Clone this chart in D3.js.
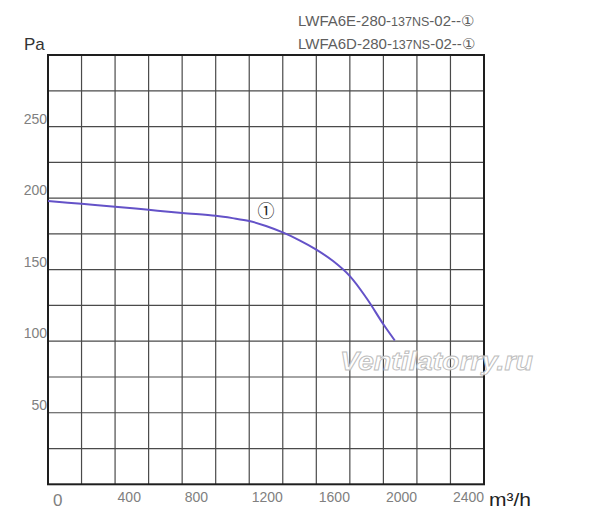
<!DOCTYPE html>
<html>
<head>
<meta charset="utf-8">
<script src="https://cdn.jsdelivr.net/npm/d3@7"></script>
<style>
  html, body { margin: 0; padding: 0; background: #fff; }
  svg { display: block; }
</style>
</head>
<body>
<svg id="chart" width="600" height="522"></svg>
<script>
// ---- data ----
const flow     = [0, 200, 400, 600, 800, 1000, 1100, 1200, 1300, 1400, 1500, 1600, 1700, 1800, 1900, 2000, 2068];
const pressure = [198, 196, 194, 191.8, 189.6, 187.6, 186, 184, 180.5, 176, 170.5, 164, 156, 145.5, 130, 111.8, 100.5];
const xTickLabels = [0, 400, 800, 1200, 1600, 2000, 2400];
const yTickLabels = [50, 100, 150, 200, 250];
const xGrid = [200, 400, 600, 800, 1000, 1200, 1400, 1600, 1800, 2000, 2200, 2400];
const yGrid = [25, 50, 75, 100, 125, 150, 175, 200, 225, 250, 275];
const xDomain = [0, 2600];
const yDomain = [0, 300];
const modelLines = [
  ["LWFA6E-280-", "137NS", "-02--①"],
  ["LWFA6D-280-", "137NS", "-02--①"]
];
const curveLabel = "①";
const watermark = "Ventilatorry.ru";

// ---- layout ----
const svg = d3.select("#chart");
const L = 48, R = 484, T = 55, B = 484.3;
const x = d3.scaleLinear().domain(xDomain).range([L, R]);
const y = d3.scaleLinear().domain(yDomain).range([B, T]);

// grid
const g = svg.append("g");
g.selectAll("line.v").data(xGrid).join("line")
  .attr("x1", d => x(d)).attr("x2", d => x(d))
  .attr("y1", T).attr("y2", B)
  .attr("stroke", "#4a4a4a").attr("stroke-width", 1.2);
g.selectAll("line.h").data(yGrid).join("line")
  .attr("y1", d => y(d)).attr("y2", d => y(d))
  .attr("x1", L).attr("x2", R)
  .attr("stroke", "#4a4a4a").attr("stroke-width", 1.2);
g.append("rect")
  .attr("x", L).attr("y", T).attr("width", R - L).attr("height", B - T)
  .attr("fill", "none").attr("stroke", "#1e1e1e").attr("stroke-width", 2);

// curve
const pts = flow.map((f, i) => [f, pressure[i]]);
const line = d3.line().x(d => x(d[0])).y(d => y(d[1])).curve(d3.curveCatmullRom.alpha(0.5));
svg.append("path").datum(pts)
  .attr("d", line)
  .attr("fill", "none")
  .attr("stroke", "#6452c8")
  .attr("stroke-width", 2);

// watermark
svg.append("text")
  .attr("x", 340).attr("y", 370)
  .attr("font-family", "Liberation Sans, Arial, sans-serif")
  .attr("font-style", "italic").attr("font-weight", "bold")
  .attr("font-size", 26)
  .attr("textLength", 193).attr("lengthAdjust", "spacingAndGlyphs")
  .attr("fill", "#ffffff").attr("fill-opacity", 0.85)
  .attr("stroke", "#bcbcbc").attr("stroke-width", 0.9)
  .text(watermark);

// curve label
svg.append("text")
  .attr("x", 266).attr("y", 216.5)
  .attr("text-anchor", "middle")
  .attr("font-family", "Noto Sans CJK SC, DejaVu Sans, sans-serif")
  .attr("font-size", 17)
  .attr("fill", "#222")
  .text(curveLabel);

// y tick labels
svg.selectAll("text.yt").data(yTickLabels).join("text")
  .attr("x", L - 1).attr("y", d => y(d) - 3)
  .attr("text-anchor", "end")
  .attr("font-family", "Liberation Sans, Arial, sans-serif")
  .attr("font-size", 14)
  .attr("fill", "#808080")
  .text(d => d);

// x tick labels
svg.selectAll("text.xt").data(xTickLabels).join("text")
  .attr("x", d => x(d) + (d === 0 ? 5 : 2.5))
  .attr("y", d => d === 0 ? 506 : 502)
  .attr("font-family", "Liberation Sans, Arial, sans-serif")
  .attr("font-size", d => d === 0 ? 17 : 14)
  .attr("fill", "#808080")
  .text(d => d);

// axis units
svg.append("text")
  .attr("x", 24).attr("y", 50)
  .attr("font-family", "Liberation Sans, Arial, sans-serif")
  .attr("font-size", 17).attr("fill", "#333")
  .text("Pa");
svg.append("text")
  .attr("x", 489).attr("y", 506)
  .attr("font-family", "Liberation Sans, Arial, sans-serif")
  .attr("font-size", 18).attr("fill", "#222")
  .attr("textLength", 42).attr("lengthAdjust", "spacingAndGlyphs")
  .text("m³/h");

// model titles
const sizes = [15, 12.5, 15];
modelLines.forEach((parts, i) => {
  const t = svg.append("text")
    .attr("x", 298).attr("y", 26 + i * 23.3)
    .attr("font-family", "Liberation Sans, Arial, sans-serif")
    .attr("fill", "#5e5e5e");
  parts.forEach((p, j) => {
    t.append("tspan").attr("font-size", sizes[j]).text(p);
  });
});
</script>
</body>
</html>
